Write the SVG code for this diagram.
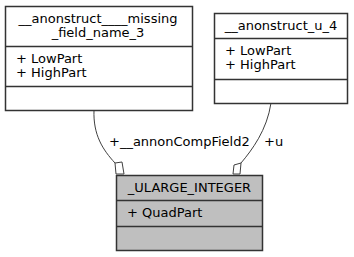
<svg xmlns="http://www.w3.org/2000/svg" width="354" height="257" viewBox="0 0 354 257">
  <style>
    .box { fill: #ffffff; stroke: #333333; stroke-width: 1.5; }
    .root { fill: #bfbfbf; stroke: #333333; stroke-width: 1.5; }
    .sep { stroke: #333333; stroke-width: 1.5; fill: none; }
    text { font-family: "DejaVu Sans", sans-serif; font-size: 13px; fill: #000000; }
    .c { text-anchor: middle; }
    .edge { fill: none; stroke: #404040; stroke-width: 1; }
    .head { fill: #ffffff; stroke: #404040; stroke-width: 1; }
  </style>
  <rect width="354" height="257" fill="#ffffff"/>

  <g id="connectors">
    <path class="edge" d="M94,110 C93,135 103,150 115,163"/>
    <polygon class="head" points="115,163 122,162 124,174 116,174"/>
    <text x="109" y="146">+__annonCompField2</text>
    <path class="edge" d="M271,103 C267,130 252,150 241,163"/>
    <polygon class="head" points="241,163 234,165 233,174 240,174"/>
    <text x="264" y="146">+u</text>
  </g>

  <g id="node_missing_field_name_3">
    <rect class="box" x="5.5" y="6.5" width="187" height="104"/>
    <line class="sep" x1="5.5" y1="46.5" x2="192.5" y2="46.5"/>
    <line class="sep" x1="5.5" y1="86.5" x2="192.5" y2="86.5"/>
    <text class="c" x="98" y="23">__anonstruct____missing</text>
    <text class="c" x="98" y="37">_field_name_3</text>
    <text x="16" y="63">+ LowPart</text>
    <text x="16" y="77">+ HighPart</text>
  </g>

  <g id="node_u_4">
    <rect class="box" x="214.5" y="13.5" width="133" height="90"/>
    <line class="sep" x1="214.5" y1="38.5" x2="347.5" y2="38.5"/>
    <line class="sep" x1="214.5" y1="79.5" x2="347.5" y2="79.5"/>
    <text class="c" x="281" y="30">__anonstruct_u_4</text>
    <text x="225" y="55">+ LowPart</text>
    <text x="225" y="69">+ HighPart</text>
  </g>

  <g id="node_ularge_integer">
    <rect class="root" x="116.5" y="175.5" width="146" height="75"/>
    <line class="sep" x1="116.5" y1="200.5" x2="262.5" y2="200.5"/>
    <line class="sep" x1="116.5" y1="226.5" x2="262.5" y2="226.5"/>
    <text class="c" x="189.5" y="192">_ULARGE_INTEGER</text>
    <text x="127" y="217">+ QuadPart</text>
  </g>
</svg>
